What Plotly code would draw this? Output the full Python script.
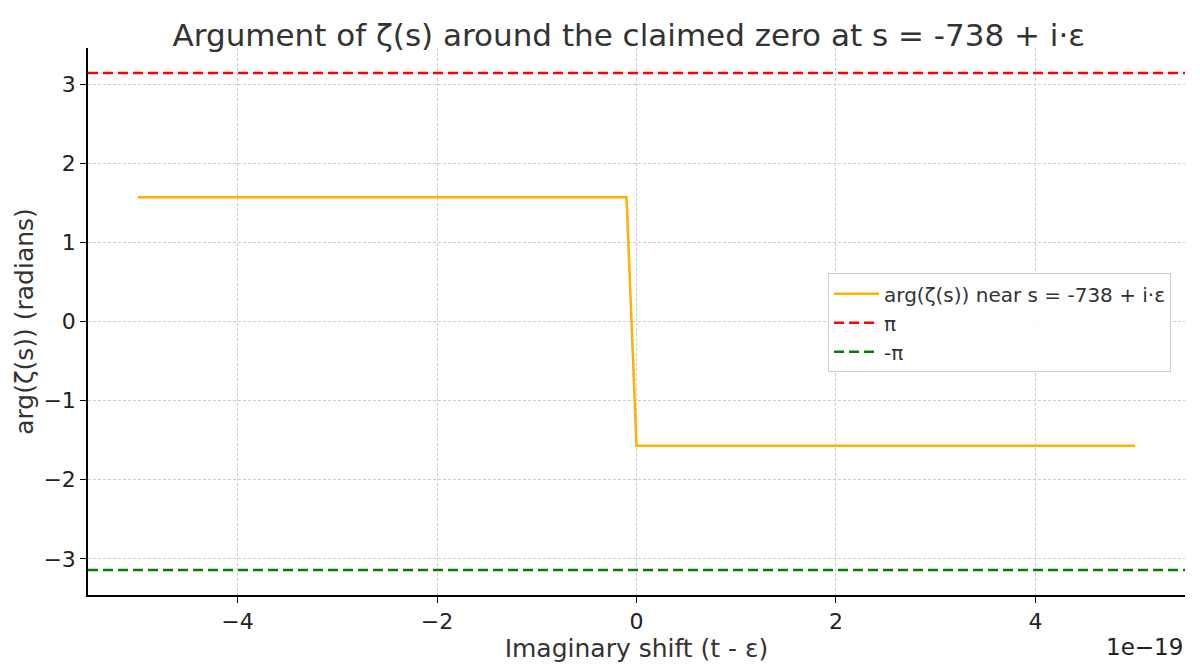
import numpy as np
import plotly.graph_objects as go

# Data (x in units of 1e-19)
x_shift = [-5.0, -0.1, 0.0, 5.0]
arg_vals = [1.5708, 1.5708, -1.5708, -1.5708]
pi_val = 3.14159
neg_pi_val = -3.14159
x_ticks = [-4, -2, 0, 2, 4]
x_tick_labels = ["−4", "−2", "0", "2", "4"]
y_ticks = [-3, -2, -1, 0, 1, 2, 3]
y_tick_labels = ["−3", "−2", "−1", "0", "1", "2", "3"]
scale = 1e-19

x_full = [-5.5 * scale, 5.5 * scale]

font_family = "DejaVu Sans, Verdana, sans-serif"

fig = go.Figure()
fig.add_trace(go.Scatter(
    x=[v * scale for v in x_shift], y=arg_vals, mode="lines",
    line=dict(color="#FFB000", width=2.5),
    name="arg(ζ(s)) near s = -738 + i·ε"))
fig.add_trace(go.Scatter(
    x=x_full, y=[pi_val, pi_val], mode="lines",
    line=dict(color="#FF0000", width=2.5, dash="10px,5px"), name="π"))
fig.add_trace(go.Scatter(
    x=x_full, y=[neg_pi_val, neg_pi_val], mode="lines",
    line=dict(color="#008000", width=2.5, dash="10px,5px"), name="-π"))

fig.update_layout(
    width=1200, height=671,
    margin=dict(l=80, r=23, t=40, b=84, autoexpand=False),
    paper_bgcolor="white", plot_bgcolor="white",
    font=dict(family=font_family, color="#222"),
    title=dict(text="Argument of ζ(s) around the claimed zero at s = -738 + i·ε",
               xref="paper", x=0.493, xanchor="center",
               yref="container", y=0.96, yanchor="middle",
               font=dict(size=31, color="#333")),
    showlegend=True,
    legend=dict(x=0.6746, y=0.588, xanchor="left", yanchor="top",
                bgcolor="rgba(255,255,255,0.9)", bordercolor="#cccccc", borderwidth=1,
                font=dict(size=20, color="#333"), itemwidth=45,
                tracegroupgap=0),
)

fig.update_xaxes(
    range=x_full, tickmode="array", automargin=False,
    tickvals=[v * scale for v in x_ticks], ticktext=x_tick_labels,
    showline=True, linecolor="black", linewidth=1.5, mirror=False,
    ticks="outside", ticklen=6, tickcolor="black",
    showgrid=True, gridcolor="#cccccc", griddash="3px,2px", gridwidth=1,
    zeroline=False, tickfont=dict(size=22, color="#222"),
    title=dict(text="Imaginary shift (t - ε)", font=dict(size=25, color="#333"), standoff=0),
)
fig.update_yaxes(
    range=[-3.456, 3.456], tickmode="array", automargin=False,
    tickvals=y_ticks, ticktext=y_tick_labels,
    showline=True, linecolor="black", linewidth=1.5, mirror=False,
    ticks="outside", ticklen=6, tickcolor="black",
    showgrid=True, gridcolor="#cccccc", griddash="3px,2px", gridwidth=1,
    zeroline=False, tickfont=dict(size=22, color="#222"),
    title=dict(text="arg(ζ(s)) (radians)", font=dict(size=25, color="#333"), standoff=3),
)

fig.add_annotation(text="1e−19", xref="paper", yref="paper", x=1.0, y=-0.068,
                   xanchor="right", yanchor="top", showarrow=False,
                   font=dict(size=23, color="#222"))

fig.write_html("out.html")
